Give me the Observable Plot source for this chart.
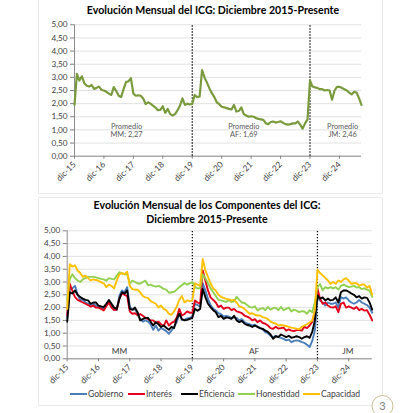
<!DOCTYPE html>
<html><head><meta charset="utf-8">
<script src="https://cdn.jsdelivr.net/npm/d3@7"></script>
<script src="https://cdn.jsdelivr.net/npm/@observablehq/plot@0.6"></script>
<style>
body{margin:0;background:#fff;}
#wrap{position:relative;width:420px;height:413px;overflow:hidden;background:#fff;font-family:Lato,"Open Sans",sans-serif;}
.box{position:absolute;border:1px solid #ebebeb;box-sizing:border-box;}
.title{position:absolute;white-space:nowrap;font-weight:bold;font-size:10.6px;color:#000;transform:translateX(-50%);line-height:13px;}
.chart{position:absolute;left:0;}
.leg{position:absolute;top:388px;font-size:8.6px;color:#404040;white-space:nowrap;line-height:12px;}
.leg span{display:inline-block;width:17px;height:2px;vertical-align:middle;margin-right:1px;position:relative;top:-1px;}
#pg{position:absolute;left:0;top:0;}
</style></head><body>
<div id="wrap">
  <div class="box" style="left:38px;top:-2px;width:345px;height:196px;"></div>
  <div class="box" style="left:38px;top:197px;width:345px;height:209px;"></div>
  <div class="title" style="left:213px;top:4px;">Evolución Mensual del ICG: Diciembre 2015-Presente</div>
  <div class="title" style="left:207px;top:199px;">Evolución Mensual de los Componentes del ICG:</div>
  <div class="title" style="left:207px;top:213px;">Diciembre 2015-Presente</div>
  <div id="c1" class="chart" style="top:0px;"></div>
  <div id="c2" class="chart" style="top:190px;"></div>
  <div id="legend"></div>
  <svg id="pg" width="420" height="413"><circle cx="382.5" cy="406" r="10.5" fill="#fff" stroke="#cdbf95" stroke-width="1"/><text x="382.5" y="410" text-anchor="middle" font-family="Lato" font-size="11" fill="#7f7f7f">3</text></svg>
</div>
<script>
const tickLabels = ["dic-15","dic-16","dic-17","dic-18","dic-19","dic-20","dic-21","dic-22","dic-23","dic-24"];
const periodBreaks = [48, 96];
const promedioLabels = ["Promedio\nMM: 2,27", "Promedio\nAF: 1,69", "Promedio\nJM: 2,46"];
const periodLabels = ["MM", "AF", "JM"];
const seriesNames = ["Gobierno", "Interés", "Eficiencia", "Honestidad", "Capacidad"];
const seriesColors = ["#4a7ebb", "#e3001b", "#000000", "#92d050", "#ffc000"];

const icg = [
 1.95,3.13,2.88,3.04,2.78,2.68,2.65,2.71,2.56,2.6,2.65,2.52,
 2.5,2.45,2.38,2.33,2.63,2.48,2.3,2.25,2.55,2.82,2.85,2.97,
 2.38,2.3,2.32,2.3,2.2,1.98,2.05,2.0,1.92,1.85,1.75,1.76,
 1.9,1.65,1.8,1.6,1.55,1.6,1.75,1.92,2.2,1.95,2.0,1.97,
 2.0,2.33,2.25,2.27,3.28,3.0,2.8,2.58,2.4,2.25,2.05,1.98,
 1.88,1.86,1.83,1.8,1.78,1.95,1.7,1.72,1.86,1.6,1.55,1.5,
 1.52,1.5,1.45,1.42,1.4,1.38,1.25,1.22,1.3,1.32,1.28,1.3,
 1.33,1.27,1.22,1.2,1.22,1.25,1.25,1.32,1.2,1.05,1.25,1.4,
 2.88,2.65,2.62,2.6,2.55,2.55,2.5,2.52,2.5,2.15,2.5,2.64,
 2.64,2.6,2.55,2.5,2.42,2.35,2.45,2.42,2.2,1.95];

const gobierno = [
 1.6,2.7,2.75,2.85,2.5,2.3,2.3,2.2,2.15,2.12,2.15,2.08,
 2.05,2.0,1.95,2.1,2.25,2.05,1.95,1.9,2.47,2.67,2.6,2.8,
 2.05,1.9,1.95,1.75,1.56,1.45,1.5,1.45,1.35,1.13,1.3,1.1,
 1.2,1.15,1.08,0.98,1.1,1.25,1.43,1.76,1.52,1.52,1.58,1.6,
 1.65,2.15,2.1,2.05,2.95,2.67,2.34,2.1,1.95,1.89,1.78,1.74,
 1.65,1.68,1.65,1.6,1.62,1.6,1.5,1.55,1.43,1.38,1.35,1.3,
 1.33,1.25,1.2,1.15,1.04,1.0,0.9,0.85,0.9,0.85,0.82,0.78,
 0.72,0.75,0.65,0.7,0.72,0.7,0.65,0.62,0.55,0.46,0.7,1.1,
 2.4,2.28,2.2,2.08,2.2,2.15,2.15,2.2,2.0,2.41,2.35,2.4,
 2.28,2.2,2.15,2.2,2.3,2.2,2.15,2.1,2.0,1.8];

const interes = [
 1.7,2.93,2.65,2.41,2.3,2.25,2.2,2.15,2.1,2.04,2.08,2.0,
 2.0,1.95,1.89,2.05,2.2,2.0,1.9,1.92,2.35,2.56,2.5,2.45,
 1.85,1.76,1.78,1.7,1.75,1.68,1.6,1.55,1.5,1.5,1.4,1.45,
 1.35,1.28,1.5,1.3,1.4,1.45,1.6,1.95,1.69,1.75,1.85,1.8,
 1.8,2.28,2.2,2.15,3.45,3.06,2.67,2.4,2.3,2.2,2.02,2.08,
 1.95,2.0,2.0,1.9,1.95,1.85,1.82,1.78,1.69,1.65,1.6,1.5,
 1.55,1.43,1.5,1.4,1.37,1.3,1.2,1.17,1.25,1.18,1.2,1.22,
 1.1,1.15,1.1,1.08,1.12,1.12,1.1,1.25,1.2,1.3,1.45,1.85,
 2.75,2.34,2.15,2.2,2.08,2.02,2.0,2.05,1.82,2.15,2.2,2.0,
 2.05,2.0,1.95,2.02,1.9,1.95,1.88,1.9,1.72,1.5];

const eficiencia = [
 1.45,2.6,2.55,2.67,2.5,2.41,2.35,2.3,2.28,2.15,2.2,2.2,
 2.08,2.05,2.02,2.15,2.3,2.15,2.0,1.95,2.33,2.6,2.55,2.67,
 1.95,1.92,2.0,1.82,1.5,1.55,1.6,1.6,1.45,1.3,1.43,1.35,
 1.24,1.3,1.21,1.13,1.25,1.2,1.56,1.76,1.55,1.5,1.52,1.56,
 1.6,1.95,1.88,1.95,2.73,2.41,2.15,2.02,1.9,1.82,1.63,1.68,
 1.56,1.62,1.6,1.56,1.68,1.5,1.43,1.48,1.37,1.32,1.3,1.24,
 1.3,1.25,1.2,1.17,1.1,1.05,0.95,0.78,0.88,0.85,0.95,0.9,
 0.85,0.9,0.82,0.85,0.88,0.85,0.78,0.85,0.88,0.82,1.05,1.5,
 2.47,2.35,2.4,2.28,2.35,2.28,2.3,2.4,2.2,2.6,2.67,2.67,
 2.62,2.55,2.5,2.4,2.45,2.35,2.4,2.38,2.2,1.92];

const honestidad = [
 2.3,3.12,3.3,3.15,3.06,3.0,3.1,3.15,3.2,3.2,3.2,3.18,
 3.15,3.12,3.1,3.05,3.15,3.12,3.1,3.25,3.38,3.35,3.3,3.3,
 2.95,3.05,3.0,2.95,2.93,3.0,3.05,2.87,2.9,2.85,2.82,2.85,
 2.8,2.73,2.7,2.58,2.6,2.62,2.7,2.8,2.87,2.96,2.9,2.95,
 3.0,2.8,2.75,2.75,3.3,3.15,2.95,2.75,2.6,2.45,2.3,2.28,
 2.25,2.22,2.3,2.22,2.25,2.42,2.3,2.2,2.18,2.1,2.02,2.0,
 2.05,1.89,1.95,1.98,1.9,2.02,1.92,1.98,2.0,1.9,2.02,1.9,
 1.95,2.0,1.85,1.92,1.88,1.82,1.86,1.85,1.76,1.9,1.82,2.2,
 2.8,2.92,2.68,2.8,2.75,2.8,2.75,2.8,2.7,2.85,2.9,2.85,
 2.8,2.82,2.85,2.78,2.8,2.72,2.75,2.7,2.66,2.42];

const capacidad = [
 1.95,3.7,3.6,3.65,3.45,3.35,3.2,3.25,3.15,3.06,3.1,3.08,
 3.05,2.99,2.95,2.8,2.9,2.85,2.75,3.06,3.3,3.35,3.3,3.4,
 2.85,2.72,2.7,2.7,2.6,2.45,2.4,2.38,2.25,2.2,2.15,2.0,
 2.08,1.95,1.9,1.76,1.72,1.85,2.04,2.3,2.45,2.2,2.28,2.25,
 2.28,2.95,2.9,2.85,3.9,3.45,3.2,2.95,2.75,2.67,2.5,2.42,
 2.38,2.34,2.32,2.28,2.3,2.2,2.05,2.02,1.95,1.85,1.76,1.78,
 1.72,1.69,1.69,1.63,1.6,1.55,1.45,1.4,1.38,1.3,1.32,1.3,
 1.28,1.25,1.22,1.2,1.18,1.15,1.25,1.3,1.35,1.42,1.5,1.9,
 3.48,3.35,3.26,3.16,3.06,2.93,3.0,2.93,3.06,3.0,3.1,3.15,
 3.05,2.93,2.95,2.95,2.86,2.9,2.9,2.78,2.85,2.5];

const components = [gobierno, interes, eficiencia, honestidad, capacidad];

const fmt = d => d.toFixed(2).replace(".", ",");
const yTicks = d3.range(0, 11).map(k => k * 0.5);
const xTicks = tickLabels.map((_, k) => k * 12);
const lastIdx = icg.length - 1;

const icgData = icg.map((v, i) => ({i, v}));
const compData = components.flatMap((arr, s) => arr.map((v, i) => ({i, v, s: seriesNames[s]})));

const baseStyle = {fontFamily: "Lato, 'Open Sans', sans-serif", fontSize: "8.2px", color: "#404040", background: "transparent", overflow: "visible"};

function axes(){
  return [
    Plot.gridY(yTicks, {stroke: "#d9d9d9", strokeOpacity: 1, strokeWidth: 0.8}),
    Plot.axisY(yTicks, {tickFormat: fmt, tickSize: 4, tickPadding: 3, stroke: "#7f7f7f", label: null, fill: "#404040"}),
    Plot.axisX(xTicks, {tickFormat: k => tickLabels[k / 12], tickRotate: -45, tickSize: 3, tickPadding: 4, stroke: "#7f7f7f", label: null, fill: "#404040", fontSize: 8.4}),
    Plot.ruleY([0], {stroke: "#8c8c8c", strokeWidth: 1}),
    Plot.ruleX([0], {stroke: "#8c8c8c", strokeWidth: 1}),
    Plot.ruleX(periodBreaks, {y1: 0, y2: 5, stroke: "#000", strokeDasharray: "1.4,1.6", strokeWidth: 1.2})
  ];
}

const chart1 = Plot.plot({
  width: 420, height: 190,
  marginTop: 24.3, marginBottom: 34.3, marginLeft: 74, marginRight: 59,
  x: {domain: [0, lastIdx]},
  y: {domain: [0, 5]},
  style: baseStyle,
  marks: [
    ...axes(),
    Plot.line(icgData, {x: "i", y: "v", stroke: "#7a9a3e", strokeWidth: 2.2, curve: "linear"}),
    Plot.text(promedioLabels, {x: (d, k) => [21.2, 69, 109.3][k], y: 0.98, text: d => d, fill: "#595959", fontSize: 7.4, lineHeight: 1.15})
  ]
});
document.getElementById("c1").appendChild(chart1);

const chart2 = Plot.plot({
  width: 420, height: 200,
  marginTop: 40.3, marginBottom: 31.7, marginLeft: 66.7, marginRight: 48.3,
  x: {domain: [0, lastIdx]},
  y: {domain: [0, 5]},
  color: {domain: seriesNames, range: seriesColors},
  style: baseStyle,
  marks: [
    ...axes(),
    Plot.line(compData, {x: "i", y: "v", z: "s", stroke: "s", strokeWidth: 1.9}),
    Plot.text(periodLabels, {x: (d, k) => [20.1, 71.7, 107.7][k], y: 0.28, text: d => d, fill: "#404040", fontSize: 8.4})
  ]
});
document.getElementById("c2").appendChild(chart2);

const legendX = [70, 128, 181, 238, 303];
const lg = document.getElementById("legend");
seriesNames.forEach((n, k) => {
  const el = document.createElement("div");
  el.className = "leg";
  el.style.left = legendX[k] + "px";
  el.innerHTML = `<span style="background:${seriesColors[k]}"></span>${n}`;
  lg.appendChild(el);
});
</script>
</body></html>
